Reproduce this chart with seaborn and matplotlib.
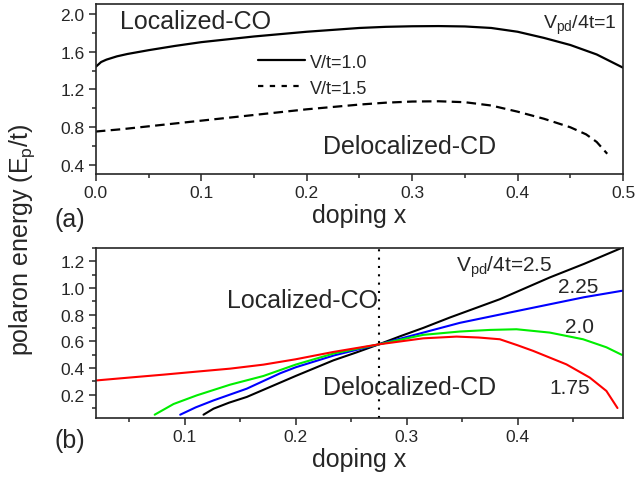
import numpy as np
import pandas as pd
import matplotlib
matplotlib.use('Agg')
import matplotlib.pyplot as plt
import seaborn as sns
from matplotlib.ticker import MultipleLocator

# (a) V_pd/4t = 1
top_x_v10 = [0.0, 0.005, 0.01, 0.02, 0.03, 0.05, 0.075, 0.1, 0.125, 0.15, 0.175, 0.2, 0.225, 0.25,
             0.275, 0.3, 0.325, 0.35, 0.375, 0.4, 0.425, 0.45, 0.475, 0.5]
top_y_v10 = [1.44, 1.49, 1.515, 1.55, 1.575, 1.615, 1.66, 1.70, 1.73, 1.76, 1.785, 1.81, 1.83, 1.85,
             1.862, 1.868, 1.870, 1.866, 1.85, 1.81, 1.745, 1.67, 1.57, 1.43]
top_x_v15 = [0.0, 0.025, 0.05, 0.1, 0.15, 0.2, 0.25, 0.275, 0.3, 0.325, 0.35, 0.375, 0.4, 0.425,
             0.45, 0.465, 0.475, 0.485]
top_y_v15 = [0.755, 0.78, 0.81, 0.87, 0.93, 0.99, 1.04, 1.06, 1.072, 1.075, 1.065, 1.03, 0.965, 0.89,
             0.80, 0.725, 0.645, 0.52]

# (b) different V_pd/4t
x_175 = [0.021, 0.05, 0.081, 0.11, 0.141, 0.171, 0.2, 0.234, 0.275, 0.315, 0.345, 0.365, 0.384,
         0.4, 0.414, 0.444, 0.465, 0.48, 0.49]
y_175 = [0.307, 0.328, 0.35, 0.372, 0.395, 0.425, 0.465, 0.52, 0.577, 0.622, 0.635, 0.628, 0.615,
         0.57, 0.528, 0.427, 0.328, 0.228, 0.10]
x_20 = [0.073, 0.09, 0.111, 0.141, 0.171, 0.2, 0.235, 0.275, 0.315, 0.348, 0.375, 0.399, 0.429,
        0.459, 0.48, 0.494]
y_20 = [0.05, 0.13, 0.195, 0.275, 0.34, 0.425, 0.51, 0.577, 0.648, 0.673, 0.685, 0.69, 0.665,
        0.615, 0.555, 0.498]
x_225 = [0.096, 0.11, 0.126, 0.156, 0.186, 0.2, 0.235, 0.275, 0.315, 0.348, 0.384, 0.429, 0.46, 0.494]
y_225 = [0.05, 0.105, 0.157, 0.245, 0.36, 0.405, 0.495, 0.577, 0.665, 0.738, 0.80, 0.877, 0.93, 0.978]
x_25 = [0.117, 0.126, 0.14, 0.156, 0.186, 0.2, 0.234, 0.255, 0.275, 0.295, 0.315, 0.339, 0.384,
        0.429, 0.46, 0.494]
y_25 = [0.05, 0.095, 0.14, 0.183, 0.29, 0.34, 0.457, 0.517, 0.577, 0.64, 0.70, 0.778, 0.915,
        1.078, 1.18, 1.30]
x_crit = 0.275

sns.set_style('ticks')
plt.rcParams['font.family'] = ['Liberation Sans', 'DejaVu Sans']
plt.rcParams['mathtext.fontset'] = 'custom'
plt.rcParams['mathtext.rm'] = 'Liberation Sans'
plt.rcParams['xtick.direction'] = 'out'
plt.rcParams['ytick.direction'] = 'out'

fig = plt.figure(figsize=(6.39, 4.85), dpi=100)
ax1 = fig.add_axes([0.150, 0.639, 0.825, 0.351])
ax2 = fig.add_axes([0.150, 0.136, 0.825, 0.351])

df_a = pd.DataFrame({'x': top_x_v10, 'y': top_y_v10})
df_b = pd.DataFrame({'x': top_x_v15, 'y': top_y_v15})
sns.lineplot(data=df_a, x='x', y='y', ax=ax1, color='black', lw=1.6, label='V/t=1.0', sort=False)
sns.lineplot(data=df_b, x='x', y='y', ax=ax1, color='black', lw=1.6, label='V/t=1.5', sort=False)
ax1.lines[1].set_dashes([4.3, 2.4])
ax1.set_xlim(0, 0.5)
ax1.set_ylim(0.305, 2.105)
ax1.xaxis.set_major_locator(MultipleLocator(0.1))
ax1.xaxis.set_minor_locator(MultipleLocator(0.05))
ax1.yaxis.set_major_locator(MultipleLocator(0.4))
ax1.yaxis.set_minor_locator(MultipleLocator(0.2))
leg = ax1.legend(loc='upper left', bbox_to_anchor=(0.29, 0.76), frameon=False,
                 fontsize=13, handlelength=2.6, handletextpad=0.3, labelspacing=0.5,
                 borderpad=0)
leg.get_lines()[1].set_dashes([2.4, 2.9])
ax1.text(0.046, 0.90, 'Localized-CO', transform=ax1.transAxes, fontsize=18, va='center', ha='left')
ax1.text(0.431, 0.165, 'Delocalized-CD', transform=ax1.transAxes, fontsize=18, va='center', ha='left')
ax1.text(0.989, 0.88, r'V$_{\mathregular{pd}}$/4t=1', transform=ax1.transAxes, fontsize=14,
         va='center', ha='right')
ax1.set_xlabel('doping x', fontsize=18, labelpad=2)
ax1.set_ylabel('')

curves = [(x_25, y_25, 'black'), (x_225, y_225, 'blue'), (x_20, y_20, '#00ee00'), (x_175, y_175, 'red')]
for xs, ys, c in curves:
    sns.lineplot(x=xs, y=ys, ax=ax2, color=c, lw=1.5, sort=False)
ax2.axvline(x_crit, color='black', lw=1.5, ls=(0, (1, 3)))
ax2.set_xlim(0.02, 0.495)
ax2.set_ylim(0.025, 1.30)
ax2.xaxis.set_major_locator(MultipleLocator(0.1))
ax2.xaxis.set_minor_locator(MultipleLocator(0.05))
ax2.yaxis.set_major_locator(MultipleLocator(0.2))
ax2.yaxis.set_minor_locator(MultipleLocator(0.1))
ax2.set_xticks([0.1, 0.2, 0.3, 0.4])
ax2.text(0.249, 0.694, 'Localized-CO', transform=ax2.transAxes, fontsize=18, va='center', ha='left')
ax2.text(0.431, 0.182, 'Delocalized-CD', transform=ax2.transAxes, fontsize=18, va='center', ha='left')
ax2.text(0.683, 0.894, r'V$_{\mathregular{pd}}$/4t=2.5', transform=ax2.transAxes, fontsize=15, va='center', ha='left')
ax2.text(0.877, 0.77, '2.25', transform=ax2.transAxes, fontsize=15, va='center', ha='left')
ax2.text(0.89, 0.54, '2.0', transform=ax2.transAxes, fontsize=15, va='center', ha='left')
ax2.text(0.86, 0.18, '1.75', transform=ax2.transAxes, fontsize=15, va='center', ha='left')
ax2.set_xlabel('doping x', fontsize=18, labelpad=2)
ax2.set_ylabel('')

for ax in (ax1, ax2):
    for s in ax.spines.values():
        s.set_visible(True)
        s.set_linewidth(1.2)
    ax.tick_params(which='major', length=5, width=1.1, labelsize=12.5, pad=3,
                   top=False, right=False)
    ax.tick_params(which='minor', length=3, width=1.1, top=False, right=False)

fig.text(0.034, 0.505, r'polaron energy (E$_{\mathregular{p}}$/t)', rotation=90,
         fontsize=18, va='center', ha='center')
fig.text(0.086, 0.546, '(a)', fontsize=18, va='center', ha='left')
fig.text(0.086, 0.09, '(b)', fontsize=18, va='center', ha='left')

fig.savefig('out.png', dpi=100)
